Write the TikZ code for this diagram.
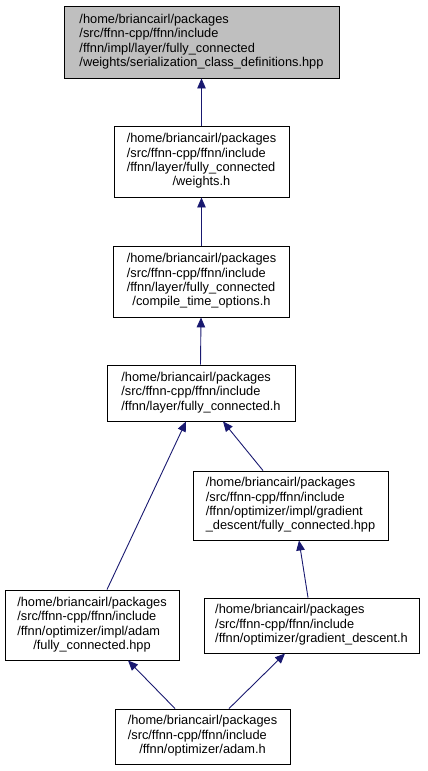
\documentclass[tikz,border=0pt]{standalone}
\usepackage{fontspec}
\setmainfont{Liberation Sans}
\usepackage{tikz}
\usetikzlibrary{arrows.meta}
\definecolor{edgeblue}{HTML}{191970}
\newcommand\pathlabel[2]{\begin{tabular}{@{}l@{}}#1\\\multicolumn{1}{@{}c@{}}{#2}\end{tabular}}
\tikzset{hdr/.style={draw=black,line width=.9pt,fill=white,inner sep=0pt,
           font=\fontsize{12.8}{14.4}\selectfont},
         dep/.style={-{Triangle[length=10pt,width=8.5pt]},line width=.9pt,edgeblue}}

\begin{document}
\begin{tikzpicture}[x=1pt,y=-1pt]
  \useasboundingbox (0,0) rectangle (428,771);
  \node[hdr,fill=black!25,minimum width=275,minimum height=72] (ser) at (201.5,42)
    {\pathlabel{/home/briancairl/packages\\/src/ffnn-cpp/ffnn/include\\/ffnn/impl/layer/fully\_connected}{/weights/serialization\_class\_definitions.hpp}};
  \node[hdr,minimum width=175,minimum height=71] (wts) at (201.5,161.5)
    {\pathlabel{/home/briancairl/packages\\/src/ffnn-cpp/ffnn/include\\/ffnn/layer/fully\_connected}{/weights.h}};
  \node[hdr,minimum width=176,minimum height=71] (cto) at (201.5,281.5)
    {\pathlabel{/home/briancairl/packages\\/src/ffnn-cpp/ffnn/include\\/ffnn/layer/fully\_connected}{/compile\_time\_options.h}};
  \node[hdr,minimum width=188,minimum height=56] (lfc) at (201,393)
    {\pathlabel{/home/briancairl/packages\\/src/ffnn-cpp/ffnn/include}{/ffnn/layer/fully\_connected.h}};
  \node[hdr,minimum width=195,minimum height=69] (gdfc) at (290.5,505.5)
    {\pathlabel{/home/briancairl/packages\\/src/ffnn-cpp/ffnn/include\\/ffnn/optimizer/impl/gradient}{\_descent/fully\_connected.hpp}};
  \node[hdr,minimum width=174,minimum height=70] (adfc) at (92,625)
    {\pathlabel{/home/briancairl/packages\\/src/ffnn-cpp/ffnn/include\\/ffnn/optimizer/impl/adam}{/fully\_connected.hpp}};
  \node[hdr,minimum width=215,minimum height=55] (gd) at (311.5,625.5)
    {\pathlabel{/home/briancairl/packages\\/src/ffnn-cpp/ffnn/include}{/ffnn/optimizer/gradient\_descent.h}};
  \node[hdr,minimum width=175,minimum height=55] (adam) at (202.5,736.5)
    {\pathlabel{/home/briancairl/packages\\/src/ffnn-cpp/ffnn/include}{/ffnn/optimizer/adam.h}};

  % includes point up to the included file
  \draw[dep] (wts) -- (ser);
  \draw[dep] (cto) -- (wts);
  \draw[dep] ([xshift=-.5]lfc.north) -- ([xshift=-.5]cto.south);
  \draw[dep] ([xshift=15]adfc.north) -- ([xshift=-15]lfc.south);
  \draw[dep] ([xshift=-27.5]gdfc.north) -- ([xshift=22]lfc.south);
  \draw[dep] ([xshift=-3.5]gd.north) -- ([xshift=8.5]gdfc.south);
  \draw[dep] ([xshift=-27.5]adam.north) -- ([xshift=36]adfc.south);
  \draw[dep] ([xshift=26.5]adam.north) -- ([xshift=-26.5]gd.south);
\end{tikzpicture}
\end{document}
